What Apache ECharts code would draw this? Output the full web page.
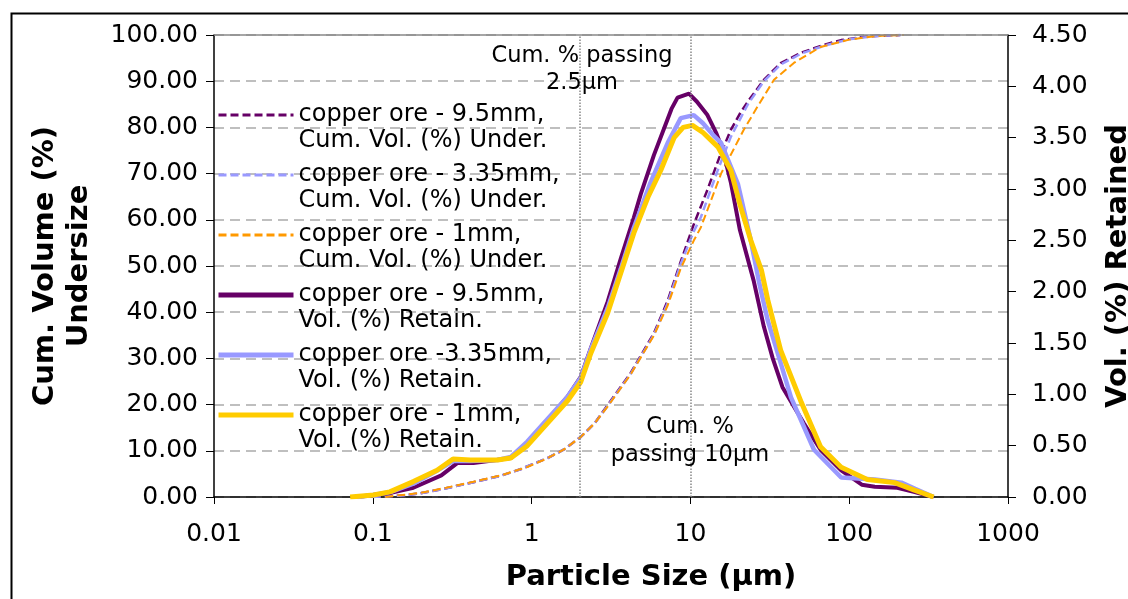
<!DOCTYPE html>
<html><head><meta charset="utf-8">
<script src="https://cdn.jsdelivr.net/npm/echarts@6/dist/echarts.min.js"></script>
<style>html,body{margin:0;padding:0;background:#fff;overflow:hidden}#c{width:1128px;height:599px}</style>
</head><body><div id="c"></div>
<script>
// ---- data ----
const xTickLabels = ['0.01', '0.1', '1', '10', '100', '1000'];
const seriesNames = [
  'copper ore - 9.5mm,\nCum. Vol. (%) Under.',
  'copper ore - 3.35mm,\nCum. Vol. (%) Under.',
  'copper ore - 1mm,\nCum. Vol. (%) Under.',
  'copper ore - 9.5mm,\nVol. (%) Retain.',
  'copper ore -3.35mm,\nVol. (%) Retain.',
  'copper ore - 1mm,\nVol. (%) Retain.'
];
// cumulative volume undersize (%) [size µm, value]
const cum95 = [[0.1,0],[0.15,0.3],[0.2,0.8],[0.29,1.9],[0.43,3.2],[0.64,4.6],[0.85,6.0],[1.0,7.0],[1.26,8.4],[1.6,10.3],[2.04,13.0],[2.5,16.0],[3.0,19.8],[4.2,26.8],[5.9,35.5],[7.2,42.5],[8.7,51.0],[10.5,59.0],[12.8,66.5],[15.6,74.5],[18,79.5],[20.5,83],[23,85.6],[29,90.3],[37,93.9],[50,96.2],[70,97.9],[89,98.9],[130,99.7],[210,100]];
const cum335 = [[0.1,0],[0.15,0.3],[0.2,0.8],[0.29,1.9],[0.43,3.2],[0.64,4.6],[0.85,6.0],[1.0,7.0],[1.26,8.4],[1.6,10.3],[2.04,13.0],[2.5,16.0],[3.0,19.6],[4.2,26.6],[5.9,35.2],[7.2,42.0],[8.7,50.5],[10.5,57.5],[11.65,60.6],[14.9,70.8],[18,78],[23,85],[29,90],[37,93.6],[50,96],[70,97.7],[100,99.1],[150,99.8],[210,100]];
const cum1 = [[0.12,0],[0.2,0.9],[0.29,2.0],[0.43,3.3],[0.66,4.8],[0.94,6.5],[1.26,8.4],[1.6,10.3],[2.04,13.0],[2.5,16.0],[3.0,19.5],[4.2,26.5],[5.9,35.0],[7.2,41.5],[8.7,49.5],[10.5,55.5],[11.65,58.4],[15.6,70],[21.6,79.4],[27,85],[33.6,90.3],[45,94],[66,97.4],[100,99],[150,99.8],[220,100]];
// volume retained (%) [size µm, value]
const ret95 = [[0.08,0],[0.1,0.02],[0.13,0.04],[0.18,0.09],[0.27,0.21],[0.34,0.33],[0.43,0.33],[0.6,0.36],[0.74,0.38],[0.94,0.53],[1.26,0.75],[1.69,0.98],[2.04,1.17],[2.36,1.45],[3.01,1.9],[3.64,2.32],[4.4,2.72],[4.87,2.95],[5.89,3.33],[7.6,3.78],[8.3,3.89],[9.8,3.93],[11,3.85],[12.8,3.72],[14.5,3.55],[16,3.38],[18,3.06],[20.5,2.6],[25,2.11],[29,1.66],[33,1.35],[38,1.07],[51.7,0.72],[66,0.46],[89,0.26],[120,0.12],[145,0.1],[201,0.09],[255,0.05],[340,0]];
const ret335 = [[0.08,0],[0.1,0.02],[0.13,0.05],[0.18,0.13],[0.25,0.25],[0.32,0.35],[0.41,0.35],[0.61,0.36],[0.74,0.39],[0.94,0.54],[1.26,0.76],[1.69,0.98],[2.04,1.16],[2.36,1.44],[3.01,1.84],[3.64,2.22],[4.4,2.62],[5.6,3.06],[7.2,3.45],[8.7,3.69],[10.5,3.72],[12,3.64],[14,3.52],[15.6,3.45],[19.9,3.05],[24,2.5],[27,2.1],[30.7,1.72],[35,1.43],[43,0.97],[60,0.46],[89,0.19],[145,0.17],[213,0.14],[260,0.08],[340,0]];
const ret1 = [[0.072,0],[0.101,0.02],[0.128,0.05],[0.18,0.15],[0.254,0.26],[0.32,0.37],[0.41,0.36],[0.61,0.36],[0.74,0.38],[0.94,0.5],[1.26,0.72],[1.69,0.94],[2.04,1.12],[2.36,1.4],[3.01,1.79],[3.64,2.18],[4.4,2.57],[5.4,2.92],[6.5,3.18],[7.9,3.5],[9,3.6],[10.3,3.62],[12,3.55],[14.9,3.41],[18,3.18],[20.5,2.85],[24,2.5],[28,2.21],[30.7,1.92],[37,1.43],[50,0.92],[66,0.49],[89,0.29],[130,0.17],[193,0.14],[255,0.07],[340,0]];
const refLinesX = [2, 10];

const FONT = 'DejaVu Sans';
const chart = echarts.init(document.getElementById('c'), null, {renderer: 'canvas', width: 1128, height: 599});
function cumSeries(name, data, color, width) {
  return {name, type: 'line', data, yAxisIndex: 0, showSymbol: false, symbol: 'none',
    lineStyle: {color, width, type: [8, 4]}, itemStyle: {color}, z: 3};
}
function retSeries(name, data, color, width) {
  return {name, type: 'line', data, yAxisIndex: 1, showSymbol: false, symbol: 'none',
    lineStyle: {color, width}, itemStyle: {color}, z: 4};
}
const s0 = cumSeries(seriesNames[0], cum95, '#660066', 2.5);
s0.markLine = {
  silent: true, symbol: 'none', label: {show: false},
  data: [
    {xAxis: refLinesX[0], lineStyle: {type: 'dotted', color: '#888', width: 1.5}},
    {xAxis: refLinesX[1], lineStyle: {type: 'dotted', color: '#888', width: 1.5}},
    {yAxis: 100, lineStyle: {type: 'solid', color: '#888', width: 1.5}}
  ]
};
const option = {
  animation: false,
  textStyle: {fontFamily: FONT},
  grid: {left: 214, right: 120, top: 35, bottom: 102, containLabel: false, outerBoundsMode: 'none'},
  legend: {
    orient: 'vertical', left: 211, top: 71, itemWidth: 75, itemHeight: 14, itemGap: -18,
    itemStyle: {opacity: 0},
    formatter: name => '\n' + name,
    textStyle: {fontFamily: FONT, fontSize: 24, color: '#000', lineHeight: 26},
    data: seriesNames.map((n, i) => ({name: n, lineStyle: {width: i < 3 ? 3 : 5}}))
  },
  xAxis: {
    type: 'log', logBase: 10, min: 0.01, max: 1000,
    name: 'Particle Size (µm)', nameLocation: 'middle', nameGap: 66,
    nameTextStyle: {fontFamily: FONT, fontSize: 29, fontWeight: 'bold', color: '#000', padding: [0, 0, 0, 80]},
    axisLine: {lineStyle: {color: '#000', width: 1.5}},
    axisTick: {show: true, length: 7, lineStyle: {color: '#000'}},
    minorTick: {show: false},
    splitLine: {show: false},
    axisLabel: {fontFamily: FONT, fontSize: 25, color: '#000', margin: 25,
      formatter: v => xTickLabels[Math.round(Math.log10(v)) + 2]}
  },
  yAxis: [
    {type: 'value', min: 0, max: 100, interval: 10, position: 'left',
     name: 'Cum. Volume (%)\nUndersize', nameLocation: 'middle', nameGap: 118, nameRotate: 90,
     nameTextStyle: {fontFamily: FONT, fontSize: 29, fontWeight: 'bold', color: '#000', lineHeight: 34},
     axisLine: {show: true, lineStyle: {color: '#000', width: 1.5}},
     axisTick: {show: true, length: 8, lineStyle: {color: '#000'}},
     splitLine: {show: true, lineStyle: {color: '#aaa', type: [10, 6], width: 1.5}},
     axisLabel: {fontFamily: FONT, fontSize: 25, color: '#000', margin: 16, formatter: v => v.toFixed(2)}},
    {type: 'value', min: 0, max: 4.5, interval: 0.5, position: 'right',
     name: 'Vol. (%) Retained', nameLocation: 'middle', nameGap: 96, nameRotate: 90,
     nameTextStyle: {fontFamily: FONT, fontSize: 29, fontWeight: 'bold', color: '#000'},
     axisLine: {show: true, lineStyle: {color: '#000', width: 1.5}},
     axisTick: {show: true, length: 8, lineStyle: {color: '#000'}},
     splitLine: {show: false},
     axisLabel: {fontFamily: FONT, fontSize: 25, color: '#000', margin: 24, formatter: v => v.toFixed(2)}}
  ],
  graphic: [
    {type: 'rect', left: 9, top: 11, shape: {width: 1140, height: 610}, style: {fill: 'none', stroke: '#000', lineWidth: 2}, silent: true, z: 0},
    {type: 'text', x: 582, y: 70, style: {text: 'Cum. % passing\n2.5µm', fontFamily: FONT, fontSize: 22.5, lineHeight: 27, fill: '#000', align: 'center', verticalAlign: 'middle'}, z: 10},
    {type: 'text', x: 690, y: 441, style: {text: 'Cum. %\npassing 10µm', fontFamily: FONT, fontSize: 22.5, lineHeight: 28, fill: '#000', align: 'center', verticalAlign: 'middle'}, z: 10}
  ],
  series: [
    s0,
    cumSeries(seriesNames[1], cum335, '#9999FF', 2.5),
    cumSeries(seriesNames[2], cum1, '#FF9900', 2),
    retSeries(seriesNames[3], ret95, '#660066', 4),
    retSeries(seriesNames[4], ret335, '#9999FF', 4.5),
    retSeries(seriesNames[5], ret1, '#FFCC00', 5)
  ]
};
chart.setOption(option);
</script>
</body></html>
